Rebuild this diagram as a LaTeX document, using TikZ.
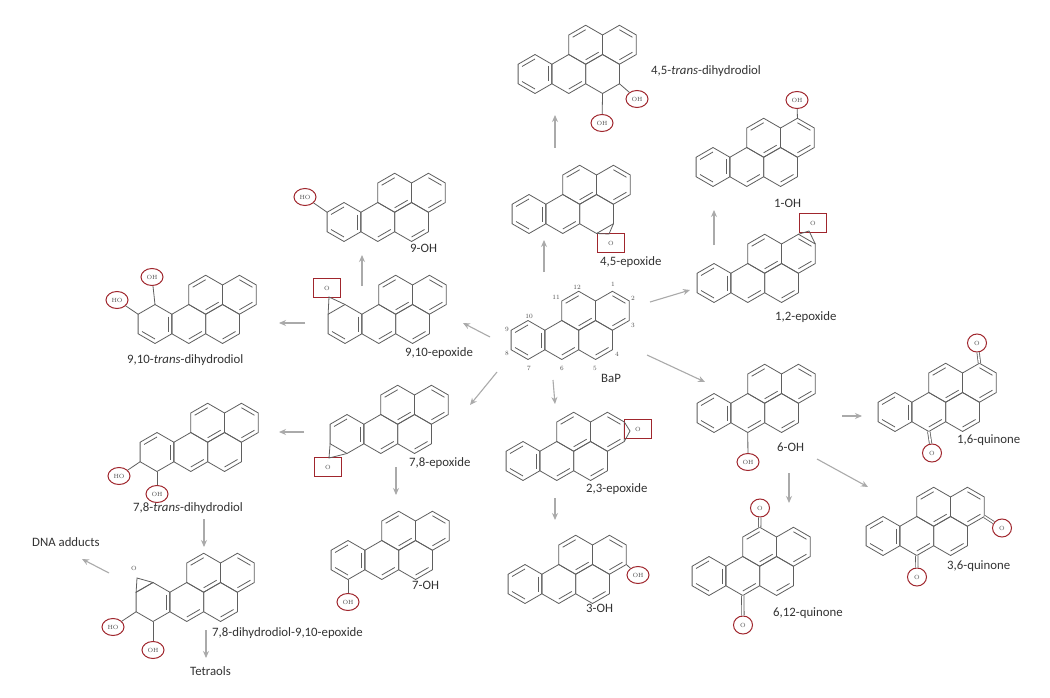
\documentclass[tikz,border=0pt]{standalone}
\usepackage{fontspec}
\setsansfont{Carlito}
\usetikzlibrary{arrows.meta,shapes.geometric}
\definecolor{oxred}{RGB}{160,38,45}
\definecolor{bondgray}{RGB}{95,95,95}
\definecolor{flowgray}{RGB}{170,170,170}
\tikzset{
  bond/.style={bondgray,line width=0.8pt},
  flow/.style={flowgray,line width=1.1pt,-{Stealth[length=7pt,width=6pt]}},
  ohc/.style={ellipse,draw=oxred,line width=1pt,minimum width=22pt,minimum height=17pt,inner sep=0pt,
    font=\rmfamily\fontsize{6}{7}\selectfont,text=black!70},
  obox/.style={rectangle,draw=oxred,line width=1pt,minimum width=27pt,minimum height=19pt,inner sep=0pt,
    font=\rmfamily\fontsize{6}{7}\selectfont,text=black!70},
  lbl/.style={font=\sffamily\fontsize{12.8}{14}\selectfont,text=black!80,anchor=west,inner sep=0pt},
  numlbl/.style={font=\rmfamily\fontsize{6.5}{7}\selectfont,text=black!70,inner sep=0pt},
  pics/bap/.style 2 args={code={
    \foreach \cx/\cy in {0/0,33.77/0,67.55/0,50.66/-29.25,84.44/-29.25}
      \draw[bond,shift={(\cx,\cy)}] (30:19.5) -- (90:19.5) -- (150:19.5) -- (210:19.5) -- (270:19.5) -- (330:19.5) -- cycle;
    \foreach \a in {#1} \draw[bond] (\a:15) -- (\a+60:15);
    \foreach \a in {#2} \draw[bond,shift={(67.55,0)}] (\a:15) -- (\a+60:15);
    \draw[bond,shift={(33.77,0)}] (30:15) -- (90:15);
    \foreach \a in {210,30} \draw[bond,shift={(50.66,-29.25)}] (\a:15) -- (\a+60:15);
    \foreach \a in {270,30} \draw[bond,shift={(84.44,-29.25)}] (\a:15) -- (\a+60:15);
    \coordinate (-p1) at (84.44,-48.75);
    \coordinate (-p2) at (101.33,-39);
    \coordinate (-p3) at (101.33,-19.5);
    \coordinate (-p4) at (84.44,9.75);
    \coordinate (-p5) at (67.55,19.5);
    \coordinate (-p6) at (33.77,19.5);
    \coordinate (-p7) at (0,19.5);
    \coordinate (-p8) at (-16.89,9.75);
    \coordinate (-p9) at (-16.89,-9.75);
    \coordinate (-p10) at (0,-19.5);
    \coordinate (-p12) at (50.66,-48.75);
  }}
}
\begin{document}
\begin{tikzpicture}[x=1pt,y=-1pt]
\useasboundingbox[fill=white] (0,0) rectangle (1050,698);
% parent compound
\pic (bap) at (528,340) {bap={90,210,330}{30}};
\node[numlbl] (n1) at (613,284) {1};
\node[numlbl] (n2) at (633,298) {2};
\node[numlbl] (n3) at (633,325) {3};
\node[numlbl] (n4) at (617,354) {4};
\node[numlbl] (n5) at (595,368) {5};
\node[numlbl] (n6) at (562,368) {6};
\node[numlbl] (n7) at (529,368) {7};
\node[numlbl] (n8) at (507,353) {8};
\node[numlbl] (n9) at (507,329) {9};
\node[numlbl] (n10) at (529,316) {10};
\node[numlbl] (n11) at (556,297) {11};
\node[numlbl] (n12) at (577,287) {12};
\node[lbl] (lbap) at (601,378) {BaP};
% 4,5 branch
\pic (e45) at (529,214) {bap={90,210,330}{}};
\node[obox] (e45-o) at (611,243) {O};
\coordinate (e45-x) at (609,234);
\draw[bond] (e45-p4) -- (e45-x) -- (e45-p5);
\node[lbl] (le45) at (600,262) {4,5-epoxide};
\pic (d45) at (535,74) {bap={90,210,330}{}};
\node[ohc] (d45-oa) at (602,123) {OH};
\node[ohc] (d45-ob) at (637,99) {OH};
\draw[bond] (d45-p5) -- (d45-oa);
\draw[bond] (d45-p4) -- (d45-ob);
\node[lbl] (ld45) at (651,71) {4,5-\textit{trans}-dihydrodiol};
% 1,2 branch
\pic (e12) at (714,283) {bap={90,210,330}{30}};
\node[obox] (e12-o) at (813,223) {O};
\coordinate (e12-x) at (809,231);
\draw[bond] (e12-p1) -- (e12-x) -- (e12-p2);
\node[lbl] (le12) at (775,317) {1,2-epoxide};
\pic (oh1) at (713,167) {bap={90,210,330}{30}};
\node[ohc] (oh1-o) at (797,100) {OH};
\draw[bond] (oh1-p1) -- (oh1-o);
\node[lbl] (loh1) at (774,203) {1-OH};
% 9,10 branch
\pic (e910) at (345,324) {bap={90,330}{30}};
\node[obox] (e910-o) at (327,288) {O};
\coordinate (e910-x) at (329,297);
\draw[bond] (e910-p9) -- (e910-x) -- (e910-p10);
\node[lbl] (le910) at (405,353) {9,10-epoxide};
\pic (d910) at (155,324) {bap={90,330}{30}};
\node[ohc] (d910-oa) at (152,277) {OH};
\node[ohc] (d910-ob) at (117,300) {HO};
\draw[bond] (d910-p10) -- (d910-oa);
\draw[bond] (d910-p9) -- (d910-ob);
\node[lbl] (ld910) at (127,360) {9,10-\textit{trans}-dihydrodiol};
\pic (oh9) at (344,222) {bap={90,210,330}{30}};
\node[ohc] (oh9-o) at (305,197) {HO};
\draw[bond] (oh9-p9) -- (oh9-o);
\node[lbl] (loh9) at (410,248) {9-OH};
% 7,8 branch
\pic (e78) at (347,434) {bap={210,330}{30}};
\node[obox] (e78-o) at (328,467) {O};
\coordinate (e78-x) at (329,458);
\draw[bond] (e78-p8) -- (e78-x) -- (e78-p7);
\node[lbl] (le78) at (409,463) {7,8-epoxide};
\pic (d78) at (157,452) {bap={210,330}{30}};
\node[ohc] (d78-oa) at (119,476) {HO};
\node[ohc] (d78-ob) at (157,494) {OH};
\draw[bond] (d78-p8) -- (d78-oa);
\draw[bond] (d78-p7) -- (d78-ob);
\node[lbl] (ld78) at (133,508) {7,8-\textit{trans}-dihydrodiol};
\pic (oh7) at (348,560) {bap={90,210,330}{30}};
\node[ohc] (oh7-o) at (348,602) {OH};
\draw[bond] (oh7-p7) -- (oh7-o);
\node[lbl] (loh7) at (412,585) {7-OH};
\pic (dde) at (153,602) {bap={330}{30}};
\node[font=\rmfamily\fontsize{6}{7}\selectfont,text=black!70,inner sep=1pt] (dde-o) at (134,568) {O};
\coordinate (dde-x) at (137,578);
\draw[bond] (dde-p9) -- (dde-x) -- (dde-p10) -- cycle;
\node[ohc] (dde-oa) at (113,627) {HO};
\node[ohc] (dde-ob) at (153,650) {OH};
\draw[bond] (dde-p8) -- (dde-oa);
\draw[bond] (dde-p7) -- (dde-ob);
\node[lbl] (ldde) at (212,633) {7,8-dihydrodiol-9,10-epoxide};
\node[lbl] (ltet) at (190,671) {Tetraols};
\node[lbl] (ldna) at (32,542) {DNA adducts};
% 2,3 branch
\pic (e23) at (523,461) {bap={90,210,330}{30}};
\node[obox] (e23-o) at (638,429) {O};
\coordinate (e23-x) at (630,431);
\draw[bond] (e23-p2) -- (e23-x) -- (e23-p3);
\node[lbl] (le23) at (586,489) {2,3-epoxide};
\pic (oh3) at (525,584) {bap={90,210,330}{30}};
\node[ohc] (oh3-o) at (638,575) {OH};
\draw[bond] (oh3-p3) -- (oh3-o);
\node[lbl] (loh3) at (586,608) {3-OH};
% 6 branch
\pic (oh6) at (714,413) {bap={90,210,330}{30}};
\node[ohc] (oh6-o) at (748,462) {OH};
\draw[bond] (oh6-p6) -- (oh6-o);
\node[lbl] (loh6) at (777,447) {6-OH};
\pic (q16) at (895,412) {bap={90,210,330}{30}};
\node[ohc,minimum width=19pt,minimum height=18pt] (q16-oa) at (977,343) {O};
\node[ohc,minimum width=19pt,minimum height=18pt] (q16-ob) at (932,453) {O};
\draw[bond,double=white,double distance=1.6pt] (q16-p1) -- (q16-oa);
\draw[bond,double=white,double distance=1.6pt] (q16-p6) -- (q16-ob);
\node[lbl] (lq16) at (957,440) {1,6-quinone};
\pic (q612) at (709,576) {bap={90,210,330}{30}};
\node[ohc,minimum width=19pt,minimum height=18pt] (q612-oa) at (760,508) {O};
\node[ohc,minimum width=19pt,minimum height=18pt] (q612-ob) at (743,625) {O};
\draw[bond,double=white,double distance=1.6pt] (q612-p12) -- (q612-oa);
\draw[bond,double=white,double distance=1.6pt] (q612-p6) -- (q612-ob);
\node[lbl] (lq612) at (773,613) {6,12-quinone};
\pic (q36) at (883,536) {bap={90,210,330}{30}};
\node[ohc,minimum width=19pt,minimum height=18pt] (q36-oa) at (1002,528) {O};
\node[ohc,minimum width=19pt,minimum height=18pt] (q36-ob) at (917,577) {O};
\draw[bond,double=white,double distance=1.6pt] (q36-p3) -- (q36-oa);
\draw[bond,double=white,double distance=1.6pt] (q36-p6) -- (q36-ob);
\node[lbl] (lq36) at (947,566) {3,6-quinone};
% arrows
\coordinate (a1s) at (544,272); \coordinate (a1e) at (544,240);
\coordinate (a2s) at (555,148); \coordinate (a2e) at (555,115);
\coordinate (a3s) at (650,302); \coordinate (a3e) at (690,290);
\coordinate (a4s) at (714,245); \coordinate (a4e) at (714,210);
\coordinate (a5s) at (490,337); \coordinate (a5e) at (463,323);
\coordinate (a6s) at (305,323); \coordinate (a6e) at (279,323);
\coordinate (a7s) at (362,286); \coordinate (a7e) at (362,255);
\coordinate (a8s) at (497,372); \coordinate (a8e) at (470,405);
\coordinate (a9s) at (304,432); \coordinate (a9e) at (279,432);
\coordinate (a10s) at (396,467); \coordinate (a10e) at (396,495);
\coordinate (a11s) at (204,519); \coordinate (a11e) at (204,547);
\coordinate (a12s) at (109,573); \coordinate (a12e) at (82,559);
\coordinate (a13s) at (206,630); \coordinate (a13e) at (206,658);
\coordinate (a14s) at (553,380); \coordinate (a14e) at (555,404);
\coordinate (a15s) at (555,498); \coordinate (a15e) at (555,520);
\coordinate (a16s) at (647,355); \coordinate (a16e) at (705,382);
\coordinate (a17s) at (842,416); \coordinate (a17e) at (862,416);
\coordinate (a18s) at (789,473); \coordinate (a18e) at (789,503);
\coordinate (a19s) at (817,459); \coordinate (a19e) at (868,487);
\foreach \i in {1,...,19} \draw[flow] (a\i s) -- (a\i e);
\end{tikzpicture}
\end{document}
